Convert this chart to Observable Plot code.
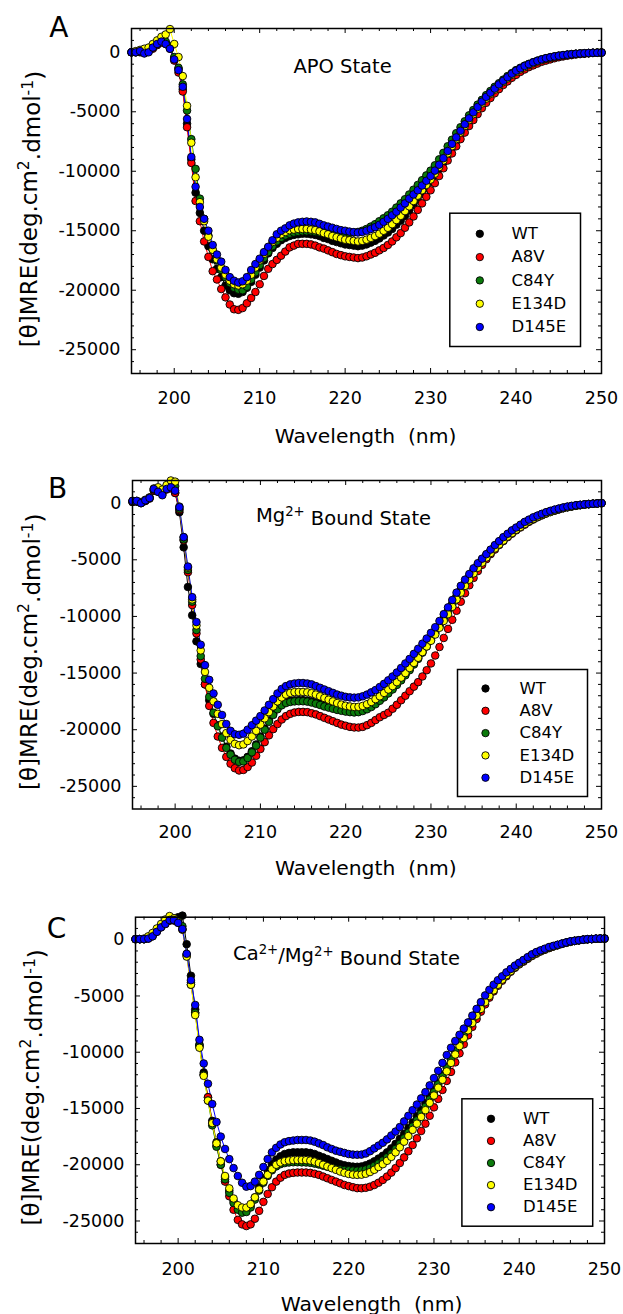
<!DOCTYPE html>
<html><head><meta charset="utf-8">
<script src="https://cdn.jsdelivr.net/npm/d3@7"></script>
<script src="https://cdn.jsdelivr.net/npm/@observablehq/plot@0.6"></script>
<style>
body{margin:0;background:#fff;}
#wrap{position:relative;width:623px;height:1314px;overflow:hidden;background:#fff;}
#wrap > .panel{position:absolute;left:0;}
</style></head><body><div id="wrap"></div>
<script>
// ---------- data ----------
const wavelengths = d3.range(195, 250.001, 0.5); // 0.5 nm sampling grid
const seriesNames = ["WT", "A8V", "C84Y", "E134D", "D145E"];
const seriesColors = ["#000000", "#ff0000", "#0b7a0b", "#ffff00", "#0000ff"];
const xMajorTicks = [200, 210, 220, 230, 240, 250];
const xMinorTicks = [196,198,202,204,206,208,212,214,216,218,222,224,226,228,232,234,236,238,242,244,246,248];
const yMajorTicks = [0, -5000, -10000, -15000, -20000, -25000];
const yTickLabels = ["0", "-5000", "-10000", "-15000", "-20000", "-25000"];
const yMinorTicks = [1000,-1000,-2000,-3000,-4000,-6000,-7000,-8000,-9000,-11000,-12000,-13000,-14000,-16000,-17000,-18000,-19000,-21000,-22000,-23000,-24000,-26000];
const yTitle = "[θ]MRE(deg.cm2.dmol-1)";
const xTitle = "Wavelength\u00a0\u00a0(nm)";
const panelTitles = ["APO State", "Mg2+ Bound State", "Ca2+/Mg2+ Bound State"];
const panelLetters = ["A", "B", "C"];
// superscript markup for the texts above: [text, isSuperscript]
const superscripts = {
  "[θ]MRE(deg.cm2.dmol-1)": [["[θ]MRE(deg.cm", 0], ["2", 1], [".dmol", 0], ["-1", 1], [")", 0]],
  "Mg2+ Bound State": [["Mg", 0], ["2+", 1], ["\u00a0Bound State", 0]],
  "Ca2+/Mg2+ Bound State": [["Ca", 0], ["2+", 1], ["/Mg", 0], ["2+", 1], ["\u00a0Bound State", 0]]
};

// Panel A : APO state
const apoWT = [0,0,0,100,100,400,700,900,800,400,
-500,-1400,-3100,-6000,-9000,-11800,-13500,-15000,-16300,-17400,
-18200,-18900,-19600,-20000,-20250,-20300,-20150,-19800,-19300,-18700,
-18100,-17500,-16900,-16450,-16100,-15800,-15600,-15450,-15350,-15300,
-15250,-15250,-15300,-15350,-15450,-15600,-15700,-15850,-15950,-16050,
-16150,-16200,-16250,-16300,-16250,-16150,-16000,-15850,-15650,-15400,
-15150,-14850,-14500,-14150,-13750,-13300,-12850,-12400,-11900,-11400,
-10900,-10350,-9800,-9250,-8650,-8050,-7450,-6900,-6350,-5800,
-5300,-4850,-4400,-3950,-3600,-3250,-2900,-2550,-2250,-1950,
-1700,-1500,-1300,-1100,-950,-820,-700,-580,-480,-400,
-330,-270,-220,-180,-140,-110,-90,-70,-50,-30,-20];
const apoA8V = [0,50,50,-50,100,300,600,800,700,300,
-700,-1700,-3300,-6300,-9300,-12500,-14200,-15900,-17200,-18400,
-19100,-19900,-20600,-21200,-21600,-21650,-21500,-21100,-20650,-20150,
-19500,-18800,-18200,-17800,-17450,-17100,-16750,-16400,-16250,-16100,
-16100,-16100,-16150,-16250,-16400,-16500,-16650,-16800,-16950,-17050,
-17150,-17200,-17250,-17300,-17250,-17150,-17000,-16850,-16650,-16450,
-16200,-15900,-15550,-15200,-14750,-14300,-13800,-13250,-12700,-12150,
-11600,-11000,-10400,-9750,-9100,-8500,-7900,-7300,-6750,-6200,
-5700,-5200,-4700,-4250,-3850,-3450,-3100,-2750,-2450,-2150,
-1900,-1650,-1450,-1250,-1100,-950,-800,-700,-600,-500,
-420,-350,-290,-240,-190,-150,-120,-90,-60,-40,-20];
const apoC84Y = [0,0,100,0,100,400,700,1000,900,500,
-400,-1300,-2700,-4900,-7300,-9800,-12300,-14000,-15400,-16600,
-17500,-18300,-18900,-19400,-19800,-19950,-20000,-19700,-19100,-18500,
-17900,-17300,-16800,-16300,-15900,-15600,-15400,-15250,-15150,-15100,
-15050,-15050,-15050,-15100,-15150,-15200,-15250,-15250,-15250,-15250,
-15200,-15200,-15150,-15100,-15000,-14850,-14650,-14450,-14200,-13950,
-13700,-13400,-13050,-12700,-12350,-11950,-11550,-11150,-10750,-10350,
-9950,-9500,-9000,-8450,-7900,-7350,-6800,-6300,-5800,-5300,
-4850,-4400,-4000,-3600,-3250,-2900,-2600,-2300,-2000,-1750,
-1500,-1300,-1120,-970,-830,-700,-590,-490,-410,-340,
-280,-230,-190,-150,-120,-100,-80,-60,-40,-30,-20];
const apoE134D = [0,100,200,300,400,700,1000,1300,1500,1950,
700,-400,-2000,-4500,-7600,-10500,-12600,-14200,-15500,-16600,
-17400,-18100,-18700,-19200,-19500,-19600,-19500,-19200,-18700,-18100,
-17500,-16950,-16400,-15950,-15600,-15300,-15100,-14950,-14900,-14850,
-14850,-14850,-14900,-14950,-15050,-15200,-15300,-15450,-15550,-15650,
-15750,-15800,-15850,-15900,-15850,-15750,-15600,-15450,-15250,-15000,
-14750,-14450,-14100,-13750,-13350,-12950,-12500,-12050,-11600,-11150,
-10700,-10200,-9650,-9100,-8500,-7900,-7300,-6750,-6200,-5700,
-5200,-4750,-4300,-3900,-3500,-3150,-2800,-2500,-2200,-1900,
-1650,-1450,-1250,-1070,-920,-780,-660,-550,-460,-380,
-310,-250,-210,-170,-130,-100,-80,-60,-40,-30,-20];
const apoD145E = [0,0,100,-100,0,400,700,900,700,300,
-600,-1500,-2900,-5600,-8800,-11300,-13000,-14000,-15000,-16200,
-17000,-17600,-18300,-18900,-19200,-19350,-19250,-18900,-18300,-17800,
-17350,-16800,-16350,-15800,-15300,-15000,-14800,-14550,-14400,-14300,
-14250,-14220,-14250,-14300,-14420,-14550,-14650,-14750,-14850,-14950,
-15000,-15070,-15120,-15150,-15100,-15000,-14850,-14700,-14500,-14250,
-14000,-13700,-13400,-13050,-12700,-12300,-11950,-11600,-11200,-10800,
-10400,-9950,-9450,-8900,-8300,-7700,-7150,-6600,-6050,-5550,
-5050,-4600,-4150,-3750,-3400,-3050,-2700,-2400,-2100,-1800,
-1550,-1350,-1150,-1000,-850,-720,-600,-500,-420,-350,
-290,-240,-200,-160,-130,-100,-80,-60,-50,-40,-30];

// Panel B : Mg2+ bound state
const mgWT = [100,150,0,200,500,1100,1200,1000,1400,1600,
900,-800,-3900,-7400,-9900,-12200,-14200,-16000,-17400,-18600,
-19600,-20600,-21500,-22100,-22550,-22740,-22700,-22400,-21900,-21300,
-20600,-19900,-19200,-18600,-18100,-17750,-17550,-17450,-17400,-17390,
-17390,-17420,-17500,-17600,-17720,-17850,-17950,-18050,-18150,-18230,
-18300,-18350,-18380,-18350,-18250,-18100,-17900,-17650,-17350,-17050,
-16700,-16350,-15950,-15550,-15100,-14650,-14150,-13650,-13100,-12550,
-12000,-11400,-10800,-10150,-9500,-8850,-8200,-7600,-7000,-6450,
-5900,-5400,-4950,-4550,-4150,-3750,-3400,-3050,-2750,-2450,
-2200,-1950,-1700,-1500,-1300,-1120,-960,-820,-700,-590,
-490,-400,-330,-260,-200,-150,-110,-70,-40,-20,0];
const mgA8V = [100,150,50,200,400,1100,1000,800,1200,1300,
900,-600,-3300,-6100,-9000,-11500,-13800,-16000,-17900,-19400,
-20600,-21600,-22400,-23000,-23400,-23600,-23550,-23300,-22900,-22300,
-21700,-21100,-20500,-19950,-19500,-19100,-18800,-18600,-18480,-18430,
-18430,-18450,-18550,-18650,-18800,-18950,-19100,-19250,-19400,-19550,
-19650,-19750,-19800,-19810,-19750,-19600,-19400,-19150,-18900,-18700,
-18500,-18150,-17800,-17400,-17000,-16600,-16200,-15800,-15300,-14750,
-14150,-13450,-12700,-11900,-11100,-10300,-9500,-8700,-7950,-7250,
-6600,-6000,-5450,-4950,-4500,-4100,-3700,-3350,-3000,-2700,
-2400,-2150,-1900,-1650,-1450,-1250,-1080,-920,-780,-660,
-550,-450,-360,-290,-230,-180,-130,-90,-60,-30,0];
const mgC84Y = [150,150,50,250,450,1200,1300,1100,1500,1700,
1500,-500,-3200,-5900,-8700,-11200,-13500,-15500,-17100,-18500,
-19700,-20700,-21600,-22200,-22650,-22840,-22800,-22500,-22000,-21400,
-20700,-20000,-19300,-18700,-18200,-17850,-17650,-17550,-17500,-17490,
-17490,-17520,-17600,-17700,-17820,-17950,-18050,-18150,-18250,-18330,
-18400,-18450,-18480,-18450,-18350,-18200,-18000,-17750,-17450,-17150,
-16800,-16450,-16050,-15650,-15200,-14750,-14250,-13750,-13200,-12650,
-12100,-11500,-10900,-10250,-9600,-8950,-8300,-7700,-7100,-6550,
-6000,-5500,-5050,-4650,-4250,-3850,-3500,-3150,-2850,-2550,
-2300,-2050,-1800,-1600,-1400,-1220,-1050,-900,-770,-650,
-540,-440,-360,-290,-230,-170,-130,-90,-60,-30,0];
const mgE134D = [200,200,100,300,500,1300,1400,1200,1600,2000,
1900,-300,-3000,-5700,-8500,-10800,-13000,-14900,-16300,-17500,
-18600,-19500,-20300,-20900,-21250,-21370,-21300,-21000,-20600,-20100,
-19550,-19000,-18450,-17950,-17500,-17150,-16900,-16750,-16680,-16670,
-16670,-16700,-16780,-16900,-17050,-17200,-17350,-17500,-17650,-17780,
-17880,-17950,-17990,-17980,-17900,-17750,-17550,-17300,-17050,-16750,
-16450,-16150,-15800,-15400,-15000,-14550,-14100,-13650,-13150,-12650,
-12150,-11600,-11000,-10400,-9800,-9150,-8500,-7900,-7300,-6750,
-6200,-5700,-5250,-4800,-4400,-4000,-3650,-3300,-2950,-2650,
-2350,-2100,-1850,-1600,-1400,-1220,-1050,-900,-770,-650,
-540,-440,-360,-290,-230,-170,-130,-90,-60,-30,0];
const mgD145E = [200,200,0,250,450,1250,1000,700,1250,1400,
1100,-350,-3000,-5600,-8300,-10500,-12500,-14300,-15600,-16800,
-17800,-18700,-19500,-20100,-20400,-20450,-20350,-20000,-19600,-19200,
-18800,-18300,-17800,-17300,-16800,-16400,-16150,-16000,-15920,-15880,
-15880,-15920,-16000,-16150,-16300,-16450,-16600,-16750,-16900,-17000,
-17100,-17150,-17170,-17150,-17050,-16900,-16700,-16500,-16230,-15950,
-15640,-15300,-14950,-14550,-14150,-13750,-13300,-12850,-12400,-11950,
-11450,-10950,-10400,-9800,-9200,-8550,-7900,-7300,-6750,-6250,
-5750,-5300,-4900,-4500,-4100,-3700,-3350,-3000,-2700,-2400,
-2150,-1900,-1650,-1450,-1250,-1100,-950,-800,-680,-570,
-480,-380,-300,-240,-190,-150,-110,-80,-50,-30,0];

// Panel C : Ca2+/Mg2+ bound state
const caWT = [50,50,50,200,400,800,1200,1500,1700,1900,
2000,2140,-400,-3200,-6200,-9300,-11800,-14000,-16100,-18000,
-19700,-21100,-22300,-23200,-23800,-24050,-24000,-23600,-22900,-22000,
-21200,-20500,-19950,-19550,-19250,-19050,-18950,-18900,-18900,-18900,
-18900,-18950,-19050,-19200,-19350,-19500,-19650,-19800,-19950,-20050,
-20120,-20170,-20180,-20150,-20050,-19900,-19700,-19450,-19200,-18900,
-18550,-18150,-17700,-17250,-16750,-16250,-15700,-15150,-14550,-13950,
-13350,-12700,-12000,-11300,-10600,-9900,-9200,-8500,-7850,-7200,
-6600,-6000,-5400,-4850,-4350,-3900,-3450,-3050,-2700,-2400,
-2100,-1850,-1600,-1350,-1150,-1000,-850,-700,-580,-470,
-360,-260,-170,-100,-50,0,40,60,80,100,100];
const caA8V = [50,50,50,100,300,700,1100,1400,1700,1700,
1500,900,-1400,-4000,-6500,-9500,-12000,-14000,-16300,-18300,
-20000,-21500,-22800,-24000,-24900,-25300,-25450,-25300,-24800,-24100,
-23300,-22600,-22000,-21500,-21150,-20900,-20780,-20720,-20690,-20690,
-20690,-20720,-20800,-20900,-21050,-21200,-21350,-21500,-21650,-21800,
-21900,-22000,-22080,-22090,-22050,-21950,-21800,-21600,-21350,-21050,
-20700,-20300,-19850,-19350,-18800,-18250,-17650,-17000,-16350,-15650,
-14900,-14150,-13350,-12550,-11750,-10900,-10100,-9300,-8500,-7750,
-7050,-6400,-5750,-5150,-4600,-4100,-3650,-3250,-2850,-2500,
-2200,-1950,-1700,-1450,-1250,-1050,-900,-750,-600,-500,
-380,-280,-190,-110,-50,0,40,60,80,100,100];
const caC84Y = [50,50,50,200,400,800,1200,1500,1800,1800,
1700,1200,-1300,-3800,-6500,-9400,-12000,-14300,-16500,-18400,
-20000,-21300,-22500,-23400,-24000,-24260,-24200,-23800,-23100,-22300,
-21600,-21000,-20500,-20150,-19950,-19850,-19800,-19780,-19780,-19790,
-19800,-19830,-19900,-19980,-20080,-20180,-20280,-20360,-20420,-20470,
-20500,-20520,-20530,-20500,-20420,-20280,-20100,-19880,-19620,-19330,
-19000,-18600,-18150,-17650,-17150,-16600,-16050,-15450,-14850,-14200,
-13550,-12850,-12150,-11400,-10650,-9900,-9150,-8450,-7800,-7150,
-6550,-5950,-5400,-4850,-4350,-3900,-3450,-3050,-2700,-2400,
-2100,-1850,-1600,-1380,-1180,-1000,-850,-700,-580,-470,
-360,-260,-170,-100,-50,0,40,60,80,100,100];
const caE134D = [50,50,100,300,600,1000,1400,1800,2100,1900,
1600,900,-1500,-4000,-6700,-9600,-12100,-14300,-16300,-18100,
-19700,-21000,-22100,-23000,-23600,-23800,-23810,-23500,-22900,-22200,
-21500,-20900,-20400,-20000,-19800,-19680,-19620,-19590,-19580,-19580,
-19590,-19630,-19720,-19850,-20000,-20150,-20300,-20450,-20600,-20720,
-20820,-20880,-20900,-20880,-20800,-20650,-20450,-20200,-19950,-19650,
-19300,-18900,-18450,-17950,-17450,-16900,-16350,-15750,-15150,-14500,
-13850,-13150,-12450,-11700,-10950,-10200,-9450,-8750,-8050,-7400,
-6750,-6150,-5550,-5000,-4500,-4000,-3550,-3150,-2800,-2450,
-2150,-1900,-1650,-1400,-1200,-1020,-870,-720,-600,-480,
-370,-270,-180,-110,-50,0,40,60,80,100,100];
const caD145E = [50,50,50,100,300,700,1100,1400,1750,1750,
1500,950,-1250,-3600,-5800,-8900,-11000,-12800,-14600,-16200,
-17500,-18600,-19500,-20300,-21000,-21600,-21950,-21900,-21500,-20900,
-20200,-19500,-18900,-18500,-18200,-18000,-17900,-17850,-17800,-17800,
-17800,-17850,-17950,-18100,-18250,-18450,-18600,-18750,-18850,-18950,
-19050,-19100,-19110,-19100,-19000,-18800,-18550,-18300,-18050,-17750,
-17400,-17050,-16650,-16150,-15650,-15150,-14650,-14100,-13550,-12950,
-12300,-11650,-10950,-10250,-9600,-9000,-8450,-7900,-7350,-6750,
-6150,-5550,-4950,-4450,-4000,-3600,-3250,-2900,-2600,-2300,
-2050,-1800,-1550,-1300,-1100,-950,-800,-650,-550,-450,
-350,-250,-150,-100,-50,0,50,50,100,100,100];

const panelSeries = [
  [apoWT, apoA8V, apoC84Y, apoE134D, apoD145E],
  [mgWT, mgA8V, mgC84Y, mgE134D, mgD145E],
  [caWT, caA8V, caC84Y, caE134D, caD145E]
];

// ---------- layout (positions / styles) ----------
const layouts = [
  {top: 0, height: 455, mL: 131, mR: 22, mT: 28, mB: 82,
   titleDx: -24, titleDy: 44.7, xLabelDy: 30, xTitleDx: -1, xTitleDy: 69,
   letterDx: -72.7, letterDy: 8.7, yTitleDx: -95, yTitleDy: 8,
   lg: {l: 318.3, r: 21, t: 184.7, b: 27, dot: 348.3, text: 380, row: 205.3, gap: 23.3}},
  {top: 455, height: 425, mL: 132, mR: 22, mT: 25, mB: 71.5,
   titleDx: -23.5, titleDy: 41.7, xLabelDy: 28.5, xTitleDx: -1.2, xTitleDy: 65.5,
   letterDx: -75, letterDy: 17, yTitleDx: -96, yTitleDy: 7,
   lg: {l: 325, r: 14, t: 189, b: 12.5, dot: 353, text: 387, row: 208, gap: 22.3}},
  {top: 880, height: 434, mL: 135, mR: 19, mT: 36.7, mB: 71,
   titleDx: -23.5, titleDy: 42.3, xLabelDy: 31.7, xTitleDx: 1.5, xTitleDy: 67,
   letterDx: -79, letterDy: 20.3, yTitleDx: -97, yTitleDy: 7,
   lg: {l: 326.4, r: 11.8, t: 181.6, b: 17.3, dot: 355.5, text: 387.4, row: 201.6, gap: 22.1}}
];

const W = 623;
const FONT = "DejaVu Sans";
const wrap = document.getElementById("wrap");

layouts.forEach((L, p) => {
  const data = [];
  seriesNames.forEach((name, si) => {
    panelSeries[p][si].forEach((v, i) => {
      if (v != null && wavelengths[i] != null) data.push({series: name, wl: wavelengths[i], v});
    });
  });
  const frameW = W - L.mL - L.mR;
  const frameH = L.height - L.mT - L.mB;
  const maj = 5, mn = 3;
  const marks = [
    // inward ticks on all sides
    Plot.tickX(xMajorTicks, {x: d => d, insetTop: frameH - maj, stroke: "#000", strokeWidth: 1}),
    Plot.tickX(xMajorTicks, {x: d => d, insetBottom: frameH - maj, stroke: "#000", strokeWidth: 1}),
    Plot.tickX(xMinorTicks, {x: d => d, insetTop: frameH - mn, stroke: "#000", strokeWidth: 1}),
    Plot.tickX(xMinorTicks, {x: d => d, insetBottom: frameH - mn, stroke: "#000", strokeWidth: 1}),
    Plot.tickY(yMajorTicks, {y: d => d, insetRight: frameW - maj, stroke: "#000", strokeWidth: 1}),
    Plot.tickY(yMajorTicks, {y: d => d, insetLeft: frameW - maj, stroke: "#000", strokeWidth: 1}),
    Plot.tickY(yMinorTicks, {y: d => d, insetRight: frameW - mn, stroke: "#000", strokeWidth: 1}),
    Plot.tickY(yMinorTicks, {y: d => d, insetLeft: frameW - mn, stroke: "#000", strokeWidth: 1}),
    // data
    Plot.line(data, {x: "wl", y: "v", z: "series", stroke: "series", strokeWidth: 1}),
    Plot.dot(data, {x: "wl", y: "v", fill: "series", stroke: "#000", strokeWidth: 0.9, r: 3.8}),
    // frame
    Plot.frame({stroke: "#000", strokeWidth: 1.5}),
    // tick labels
    Plot.text(xMajorTicks, {x: d => d, text: d => String(d), frameAnchor: "bottom", dy: L.xLabelDy,
      lineAnchor: "bottom", fontSize: 17.5, fill: "#000", fontFamily: FONT}),
    Plot.text(yMajorTicks, {y: d => d, text: (d, i) => yTickLabels[i], frameAnchor: "left", dx: -11,
      textAnchor: "end", lineAnchor: "middle", fontSize: 17.5, fill: "#000", fontFamily: FONT}),
    // axis titles
    Plot.text([xTitle], {frameAnchor: "bottom", dx: L.xTitleDx, dy: L.xTitleDy, lineAnchor: "bottom",
      fontSize: 20.3, fill: "#000", fontFamily: FONT}),
    Plot.text([yTitle], {frameAnchor: "left", rotate: -90, dx: L.yTitleDx, dy: L.yTitleDy,
      textAnchor: "middle", lineAnchor: "bottom", fontSize: 23, fill: "#000", fontFamily: FONT}),
    // panel title and letter
    Plot.text([panelTitles[p]], {frameAnchor: "top", dx: L.titleDx, dy: L.titleDy, lineAnchor: "bottom",
      fontSize: 19.5, fill: "#000", fontFamily: FONT}),
    Plot.text([panelLetters[p]], {frameAnchor: "top-left", dx: L.letterDx, dy: L.letterDy,
      lineAnchor: "bottom", textAnchor: "middle", fontSize: 28, fill: "#000", fontFamily: FONT}),
    // legend box
    Plot.frame({insetLeft: L.lg.l, insetRight: L.lg.r, insetTop: L.lg.t, insetBottom: L.lg.b,
      stroke: "#000", strokeWidth: 1.5, fill: "#fff"})
  ];
  seriesNames.forEach((name, i) => {
    marks.push(Plot.dot([name], {frameAnchor: "top-left", dx: L.lg.dot, dy: L.lg.row + i * L.lg.gap,
      r: 3.7, fill: seriesColors[i], stroke: "#000", strokeWidth: 0.9}));
    marks.push(Plot.text([name], {frameAnchor: "top-left", dx: L.lg.text, dy: L.lg.row + i * L.lg.gap,
      text: d => d, textAnchor: "start", lineAnchor: "middle", fontSize: 16.5, fill: "#000", fontFamily: FONT}));
  });

  const chart = Plot.plot({
    width: W, height: L.height,
    marginLeft: L.mL, marginRight: L.mR, marginTop: L.mT, marginBottom: L.mB,
    x: {domain: [195, 250], axis: null},
    y: {domain: [-27000, 2000], axis: null},
    color: {domain: seriesNames, range: seriesColors},
    style: {fontFamily: FONT, background: "#fff", overflow: "visible"},
    marks
  });

  // turn the marked parts of titles into real superscripts
  d3.select(chart).selectAll("text").each(function () {
    const parts = superscripts[this.textContent];
    if (!parts) return;
    const sel = d3.select(this);
    sel.text(null);
    let raised = false;
    parts.forEach(([t, sup]) => {
      const ts = sel.append("tspan").text(t);
      if (sup && !raised) { ts.attr("dy", "-0.45em").attr("font-size", "68%"); raised = true; }
      else if (sup) { ts.attr("font-size", "68%"); }
      else if (!sup && raised) { ts.attr("dy", "0.45em"); raised = false; }
    });
  });

  const div = document.createElement("div");
  div.className = "panel";
  div.style.top = L.top + "px";
  div.appendChild(chart);
  wrap.appendChild(div);
});
</script>
</body></html>
